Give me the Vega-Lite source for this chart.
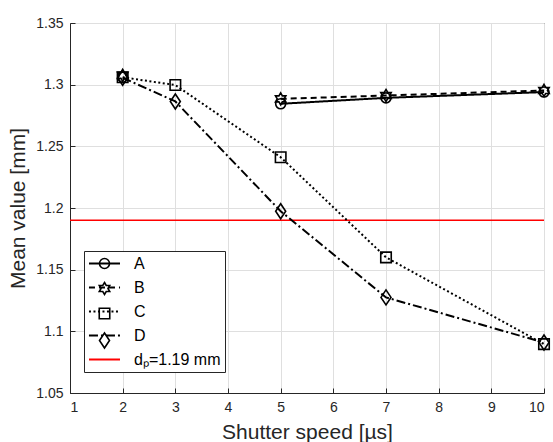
{
  "$schema": "https://vega.github.io/schema/vega-lite/v6.json",
  "width": 474,
  "height": 370,
  "autosize": {"type": "none"},
  "padding": {"left": 70, "top": 23, "right": 9, "bottom": 49},
  "background": "white",
  "config": {
    "view": {"stroke": "#262626", "strokeWidth": 1},
    "font": "Liberation Sans",
    "axis": {
      "labelFont": "Liberation Sans",
      "labelFontSize": 14,
      "labelColor": "#262626",
      "titleFont": "Liberation Sans",
      "titleFontSize": 21,
      "titleFontWeight": "normal",
      "titleColor": "#262626",
      "gridColor": "#dfdfdf",
      "gridWidth": 1,
      "domainColor": "#262626",
      "domainWidth": 1,
      "tickColor": "#262626",
      "ticks": true,
      "tickSize": -5,
      "labelPadding": 12
    }
  },
  "datasets": {
    "pts": [
      {"series": "A", "mk": "a", "x": 2, "y": 1.306, "line": false},
      {"series": "A", "mk": "a", "x": 5, "y": 1.2845, "line": true},
      {"series": "A", "mk": "a", "x": 7, "y": 1.2893, "line": true},
      {"series": "A", "mk": "a", "x": 10, "y": 1.294, "line": true},
      {"series": "B", "mk": "b", "x": 2, "y": 1.3075, "line": false},
      {"series": "B", "mk": "b", "x": 5, "y": 1.2885, "line": true},
      {"series": "B", "mk": "b", "x": 7, "y": 1.2912, "line": true},
      {"series": "B", "mk": "b", "x": 10, "y": 1.2953, "line": true},
      {"series": "C", "mk": "c", "x": 2, "y": 1.306, "line": true},
      {"series": "C", "mk": "c", "x": 3, "y": 1.2997, "line": true},
      {"series": "C", "mk": "c", "x": 5, "y": 1.2412, "line": true},
      {"series": "C", "mk": "c", "x": 7, "y": 1.16, "line": true},
      {"series": "C", "mk": "c", "x": 10, "y": 1.0896, "line": true},
      {"series": "D", "mk": "d", "x": 2, "y": 1.3056, "line": true},
      {"series": "D", "mk": "d", "x": 3, "y": 1.2864, "line": true},
      {"series": "D", "mk": "d", "x": 5, "y": 1.1974, "line": true},
      {"series": "D", "mk": "d", "x": 7, "y": 1.1275, "line": true},
      {"series": "D", "mk": "d", "x": 10, "y": 1.0909, "line": true}
    ],
    "ref": [{"series": "dₚ=1.19 mm", "y": 1.19}]
  },
  "layer": [
    {
      "data": {"name": "ref"},
      "mark": {"type": "rule", "strokeWidth": 1.5},
      "encoding": {
        "y": {"field": "y", "type": "quantitative", "scale": {"domain": [1.05, 1.35], "nice": false, "zero": false}, "axis": {"values": [1.05, 1.1, 1.15, 1.2, 1.25, 1.3, 1.35], "labelExpr": "format(datum.value, '.2~f')", "title": "Mean value [mm]", "titlePadding": 7}},
        "color": {"field": "series", "type": "nominal", "scale": {"domain": ["A", "B", "C", "D", "dₚ=1.19 mm"], "range": ["#000000", "#000000", "#000000", "#000000", "#ff0000"]},
          "legend": {"title": null, "orient": "none", "legendX": 14, "legendY": 228, "symbolType": "M-2.07,0H2.07", "symbolSize": 225, "symbolStrokeWidth": 2, "labelFont": "Liberation Sans", "labelFontSize": 16, "labelColor": "#000000", "labelOffset": 21, "symbolOffset": 8, "padding": 4, "rowPadding": 7, "fillColor": "white", "strokeColor": "#262626", "zindex": 1}},
        "strokeDash": {"field": "series", "type": "nominal", "scale": {"domain": ["A", "B", "C", "D", "dₚ=1.19 mm"], "range": [[1, 0], [6, 4], [2, 2.5], [9, 3, 2, 3], [1, 0]]},
          "legend": {"title": null, "orient": "none", "legendX": 14, "legendY": 228, "symbolType": "M-2.07,0H2.07", "symbolSize": 225, "symbolStrokeWidth": 2, "labelFont": "Liberation Sans", "labelFontSize": 16, "labelColor": "#000000", "labelOffset": 21, "symbolOffset": 8, "padding": 4, "rowPadding": 7, "fillColor": "white", "strokeColor": "#262626", "zindex": 1}}
      }
    },
    {
      "data": {"name": "pts"},
      "transform": [{"filter": "datum.line"}],
      "mark": {"type": "line", "strokeWidth": 2},
      "encoding": {
        "x": {"field": "x", "type": "quantitative", "scale": {"domain": [1, 10], "nice": false, "zero": false}, "axis": {"values": [1, 2, 3, 4, 5, 6, 7, 8, 9, 10], "format": "d", "title": "Shutter speed [µs]", "titlePadding": 7}},
        "y": {"field": "y", "type": "quantitative"},
        "color": {"field": "series", "type": "nominal"},
        "strokeDash": {"field": "series", "type": "nominal"},
        "order": {"field": "x", "type": "quantitative"}
      }
    },
    {
      "data": {"name": "pts"},
      "mark": {"type": "point", "filled": false, "color": "#000000", "strokeWidth": 1.6, "size": 225, "opacity": 1},
      "encoding": {
        "x": {"field": "x", "type": "quantitative"},
        "y": {"field": "y", "type": "quantitative"},
        "shape": {"field": "mk", "type": "nominal", "scale": {"domain": ["a", "b", "c", "d", "e"], "range": [
            "M-0.667,0A0.667,0.667 0 1,0 0.667,0A0.667,0.667 0 1,0 -0.667,0Z",
            "M0,-0.8L0.231,-0.4L0.693,-0.4L0.462,0L0.693,0.4L0.231,0.4L0,0.8L-0.231,0.4L-0.693,0.4L-0.462,0L-0.693,-0.4L-0.231,-0.4Z",
            "M-0.7,-0.7H0.7V0.7H-0.7Z",
            "M0,-1L0.667,0L0,1L-0.667,0Z",
            "M0,0"
          ]},
          "legend": {"title": null, "orient": "none", "legendX": 14, "legendY": 228, "symbolSize": 225, "symbolStrokeWidth": 1.6, "labelFont": "Liberation Sans", "labelFontSize": 16, "labelExpr": "' '", "labelOffset": 21, "symbolOffset": 8, "padding": 4, "rowPadding": 7, "zindex": 2}}
      }
    }
  ]
}
